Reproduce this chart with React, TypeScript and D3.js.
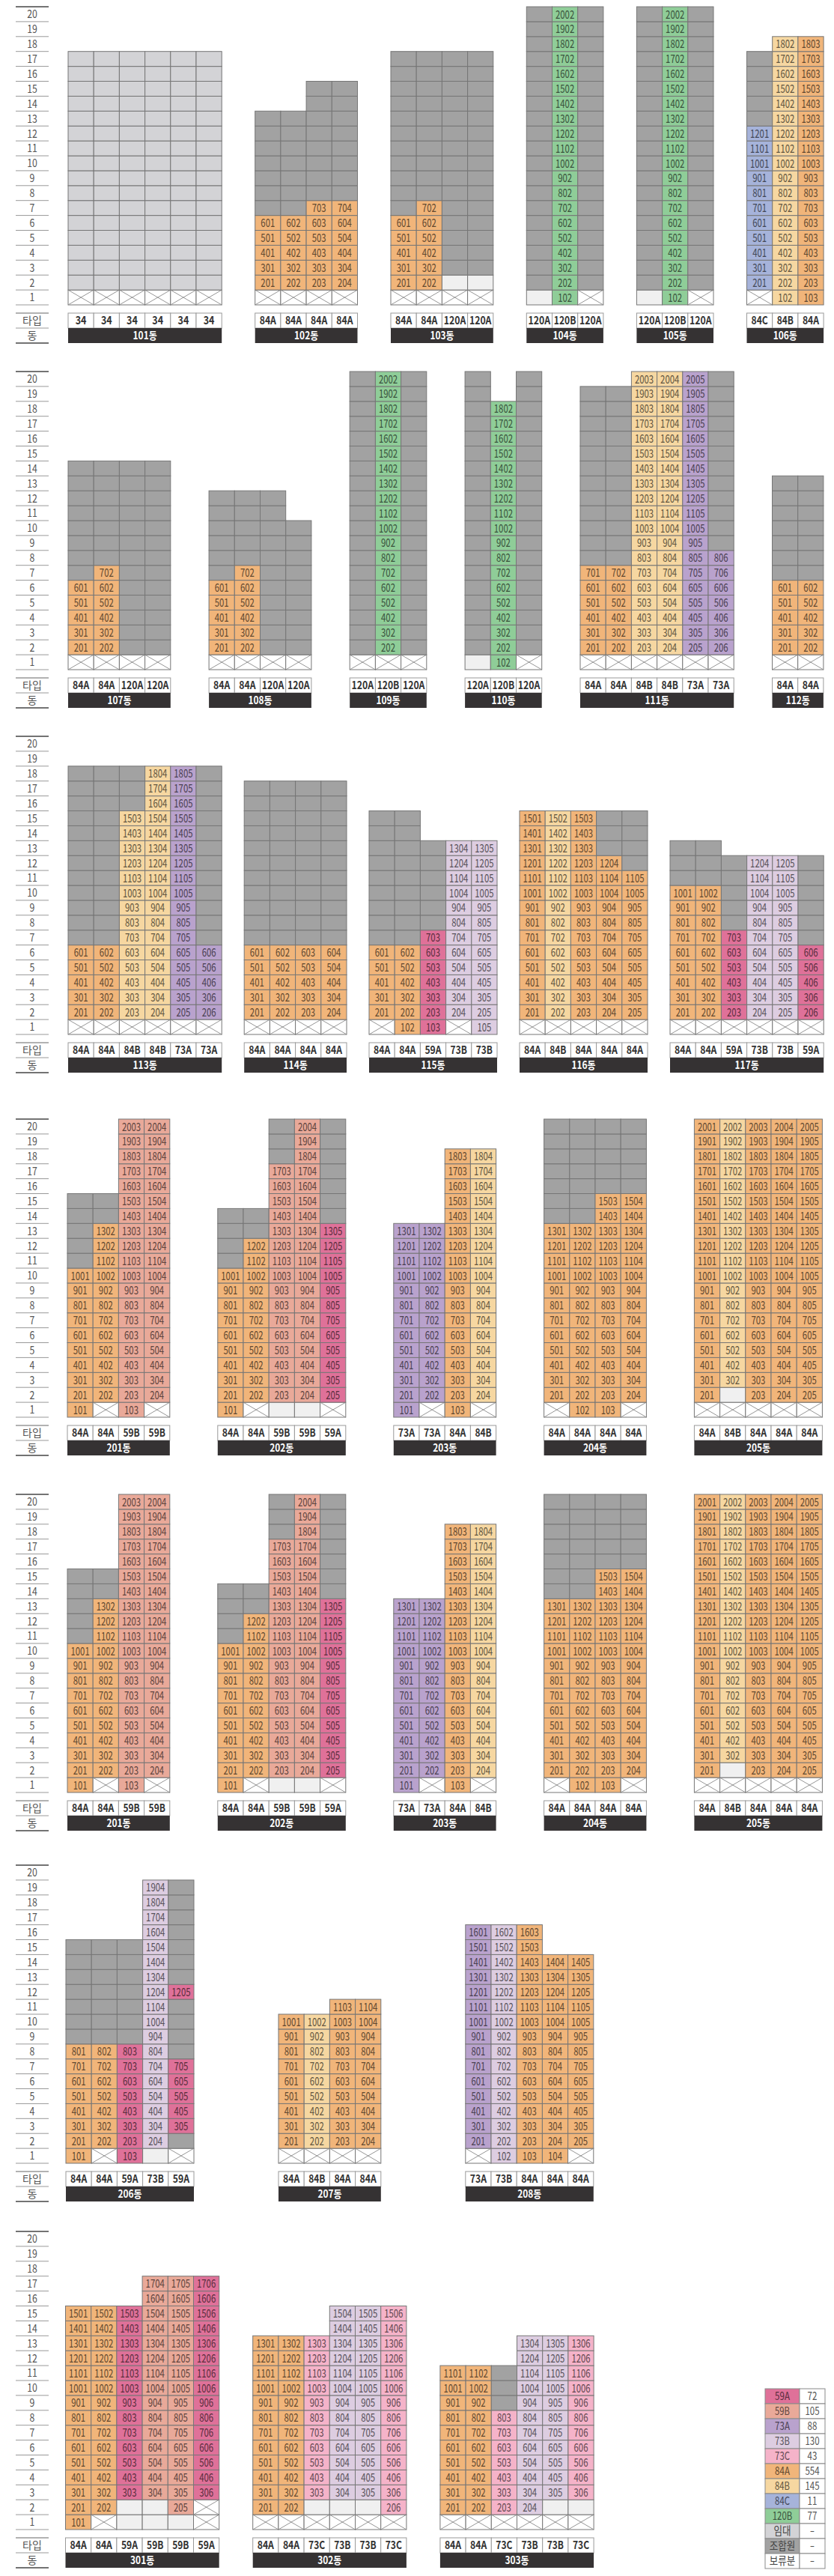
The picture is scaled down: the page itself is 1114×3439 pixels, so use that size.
import React from 'react'
import * as d3 from 'd3'

type Building = { dong: string; types: string[]; floors: string[] }

// floor codes, read from the ground floor up: x = piloti, s = unit for sale,
// g = 조합원, r = 임대, h = 보류분. A number after a letter repeats it.
const floorTicks = ['1', '2', '3', '4', '5', '6', '7', '8', '9', '10', '11', '12', '13', '14', '15', '16', '17', '18', '19', '20']
const footLabels = ['타입', '동']

const row1: Building[] = [
    { dong: '101동', types: ['34', '34', '34', '34', '34', '34'], floors: ['x r16', 'x r16', 'x r16', 'x r16', 'x r16', 'x r16'] },
    { dong: '102동', types: ['84A', '84A', '84A', '84A'], floors: ['x s5 g7', 'x s5 g7', 'x s6 g8', 'x s6 g8'] },
    { dong: '103동', types: ['84A', '84A', '120A', '120A'], floors: ['x s5 g11', 'x s6 g10', 'x h g15', 'x h g15'] },
    { dong: '104동', types: ['120A', '120B', '120A'], floors: ['h g19', 's20', 'x g19'] },
    { dong: '105동', types: ['120A', '120B', '120A'], floors: ['h g19', 's20', 'x g19'] },
    { dong: '106동', types: ['84C', '84B', '84A'], floors: ['x s11 g5', 's18', 's18'] },
]

const row2: Building[] = [
    { dong: '107동', types: ['84A', '84A', '120A', '120A'], floors: ['x s5 g8', 'x s6 g7', 'x g13', 'x g13'] },
    { dong: '108동', types: ['84A', '84A', '120A', '120A'], floors: ['x s5 g6', 'x s6 g5', 'x g11', 'x g9'] },
    { dong: '109동', types: ['120A', '120B', '120A'], floors: ['x g19', 'x s19', 'x g19'] },
    { dong: '110동', types: ['120A', '120B', '120A'], floors: ['h g19', 's18', 'x g19'] },
    { dong: '111동', types: ['84A', '84A', '84B', '84B', '73A', '73A'], floors: ['x s6 g12', 'x s6 g12', 'x s19', 'x s19', 'x s19', 'x s7 g12'] },
    { dong: '112동', types: ['84A', '84A'], floors: ['x s5 g7', 'x s5 g7'] },
]

const row3: Building[] = [
    { dong: '113동', types: ['84A', '84A', '84B', '84B', '73A', '73A'], floors: ['x s5 g12', 'x s5 g12', 'x s14 g3', 'x s17', 'x s17', 'x s5 g12'] },
    { dong: '114동', types: ['84A', '84A', '84A', '84A'], floors: ['x s5 g11', 'x s5 g11', 'x s5 g11', 'x s5 g11'] },
    { dong: '115동', types: ['84A', '84A', '59A', '73B', '73B'], floors: ['x s5 g9', 's6 g9', 's7 g6', 'x s12', 's13'] },
    { dong: '116동', types: ['84A', '84B', '84A', '84A', '84A'], floors: ['x s14', 'x s14', 'x s14', 'x s11 g3', 'x s10 g4'] },
    { dong: '117동', types: ['84A', '84A', '59A', '73B', '73B', '59A'], floors: ['x s9 g3', 'x s9 g3', 'x s6 g5', 'x s11', 'x s11', 'x s5 g6'] },
]

const row4: Building[] = [
    { dong: '201동', types: ['84A', '84A', '59B', '59B'], floors: ['s10 g5', 'x s12 g2', 's20', 'x s19'] },
    { dong: '202동', types: ['84A', '84A', '59B', '59B', '59A'], floors: ['s10 g4', 'x s11 g2', 'h s16 g3', 'h s19', 'x s12 g7'] },
    { dong: '203동', types: ['73A', '73A', '84A', '84B'], floors: ['s13', 'x s12', 's18', 'x s17'] },
    { dong: '204동', types: ['84A', '84A', '84A', '84A'], floors: ['x s12 g7', 's13 g7', 's15 g5', 'x s14 g5'] },
    { dong: '205동', types: ['84A', '84B', '84A', '84A', '84A'], floors: ['x s19', 'x h s18', 'x s19', 'x s19', 'x s19'] },
]

// the source sheet prints the 200-block twice
const row5: Building[] = row4

const row6: Building[] = [
    { dong: '206동', types: ['84A', '84A', '59A', '73B', '59A'], floors: ['s8 g7', 'x s7 g7', 's8 g7', 'h s18', 'x g s5 g4 s g7'] },
    { dong: '207동', types: ['84A', '84B', '84A', '84A'], floors: ['x s9', 'x s9', 'x s10', 'x s10'] },
    { dong: '208동', types: ['73A', '73B', '84A', '84A', '84A'], floors: ['x s15', 's16', 's16', 's14', 'x s13'] },
]

const row7: Building[] = [
    { dong: '301동', types: ['84A', '84A', '59A', '59B', '59B', '59A'], floors: ['s15', 'x s14', 'h2 s13', 'h2 s15', 'h s16', 'x2 s15'] },
    { dong: '302동', types: ['84A', '84A', '73C', '73B', '73B', '73C'], floors: ['x s12', 'x s12', 'x h s11', 'x h s13', 'x h s13', 'x s14'] },
    { dong: '303동', types: ['84A', '84A', '73C', '73B', '73B', '73C'], floors: ['x s10', 'x s10', 'x s7 g3', 'x s12', 'x h s11', 'x h s11'] },
]

const legendLabels = ['59A', '59B', '73A', '73B', '73C', '84A', '84B', '84C', '120B', '임대', '조합원', '보류분']
const legendCounts = ['72', '105', '88', '130', '43', '554', '145', '11', '77', '-', '-', '-']

// ---- styles / layout ----
const FONT = "'Noto Sans CJK KR', 'Noto Sans', sans-serif"
const COL_W = 34.2
const FLOOR_H = 19.9
const FLOORS = 20

const typeColors: Record<string, string> = {
    '59A': '#df7199', '59B': '#e9a999', '73A': '#b9a2cd', '73B': '#ddcde1', '73C': '#f5b3c9',
    '84A': '#f1b57a', '84B': '#f6d7a1', '84C': '#a6b3da', '120B': '#8fcd98',
    '임대': '#d3d3d6', '조합원': '#a2a2a2', '보류분': '#ffffff',
}
const codeColors: Record<string, string> = { r: '#d3d3d6', g: '#a2a2a2', h: '#f0f0f0', x: '#ffffff' }

const rows = [row1, row2, row3, row4, row5, row6, row7]
const rowLayouts = [
    { top: 9, x0: 91, gap: 44.5 },
    { top: 496, x0: 91, gap: 51.3 },
    { top: 983, x0: 91, gap: 30 },
    { top: 1494, x0: 90, gap: 64 },
    { top: 1995, x0: 90, gap: 64 },
    { top: 2490, x0: 88, gap: 113 },
    { top: 2979, x0: 87.5, gap: 45 },
]

const expand = (code: string): string[] =>
    code.split(' ').flatMap(tok => {
        const n = tok.length > 1 ? +tok.slice(1) : 1
        return Array(n).fill(tok[0])
    })

const textColor = (fill: string) => d3.color(fill)!.darker(2.6).formatHex()

const Axis = ({ y, footTop }: { y: d3.ScaleLinear<number, number>; footTop: number }) => (
    <g>
        {d3.range(0, FLOORS + 1).map(k => (
            <line key={k} x1={21} x2={65} y1={y(k)} y2={y(k)}
                stroke={k === FLOORS ? '#444' : '#999'} strokeWidth={k === FLOORS ? 1.6 : 1} />
        ))}
        {floorTicks.map((t, i) => (
            <text key={t} x={43} y={(y(i) + y(i + 1)) / 2} dy='0.36em' textAnchor='middle'
                fontSize={15} fill='#555' textLength={t.length * 6.8} lengthAdjust='spacingAndGlyphs'>{t}</text>
        ))}
        {[0, 1, 2].map(k => (
            <line key={k} x1={21} x2={65} y1={footTop + k * 20} y2={footTop + k * 20}
                stroke={k === 2 ? '#444' : '#999'} strokeWidth={k === 1 ? 1 : 1.6} />
        ))}
        {footLabels.map((t, i) => (
            <text key={t} x={43} y={footTop + i * 20 + 10} dy='0.36em' textAnchor='middle'
                fontSize={14} fill='#555'>{t}</text>
        ))}
    </g>
)

const BuildingView = ({ b, left, y, footTop }: { b: Building; left: number; y: d3.ScaleLinear<number, number>; footTop: number }) => {
    const n = b.types.length
    const x = d3.scaleBand<number>().domain(d3.range(n)).range([left, left + n * COL_W])
    const w = x.bandwidth()
    return (
        <g>
            {b.floors.map((code, ci) => expand(code).map((k, fi) => {
                const floor = fi + 1
                const x0 = x(ci)!
                const y0 = y(floor)
                const h = y(floor - 1) - y(floor)
                const fill = k === 's' ? typeColors[b.types[ci]] : codeColors[k]
                const unit = String(floor * 100 + ci + 1)
                return (
                    <g key={`${ci}-${fi}`}>
                        <rect x={x0} y={y0} width={w} height={h} fill={fill} stroke='#767676' strokeWidth={1} />
                        {k === 'x' && (
                            <path d={`M${x0},${y0}L${x0 + w},${y0 + h}M${x0 + w},${y0}L${x0},${y0 + h}`}
                                stroke='#8a8a8a' strokeWidth={0.9} fill='none' />
                        )}
                        {k === 's' && (
                            <text x={x0 + w / 2} y={y0 + h / 2} dy='0.36em' textAnchor='middle' fontSize={15.5}
                                fill={textColor(fill)} textLength={unit.length * 6.3} lengthAdjust='spacingAndGlyphs'>{unit}</text>
                        )}
                    </g>
                )
            }))}
            {b.types.map((t, ci) => (
                <g key={t + ci}>
                    <rect x={x(ci)} y={footTop} width={w} height={20} fill='#fff' stroke='#9a9a9a' />
                    <text x={x(ci)! + w / 2} y={footTop + 10} dy='0.36em' textAnchor='middle' fontSize={15}
                        fontWeight='bold' fill='#333' textLength={t.length * 7.4} lengthAdjust='spacingAndGlyphs'>{t}</text>
                </g>
            ))}
            <rect x={left} y={footTop + 20} width={n * COL_W} height={20} fill='#353233' />
            <text x={left + (n * COL_W) / 2} y={footTop + 30} dy='0.36em' textAnchor='middle' fontSize={14}
                fontWeight='bold' fill='#fff' textLength={32} lengthAdjust='spacingAndGlyphs'>{b.dong}</text>
        </g>
    )
}

const Row = ({ buildings, layout }: { buildings: Building[]; layout: { top: number; x0: number; gap: number } }) => {
    const y = d3.scaleLinear().domain([0, FLOORS]).range([layout.top + FLOORS * FLOOR_H, layout.top])
    const footTop = y(0) + 11
    const lefts: number[] = []
    let cursor = layout.x0
    buildings.forEach(b => {
        lefts.push(cursor)
        cursor += b.types.length * COL_W + layout.gap
    })
    return (
        <g>
            <Axis y={y} footTop={footTop} />
            {buildings.map((b, i) => <BuildingView key={b.dong} b={b} left={lefts[i]} y={y} footTop={footTop} />)}
        </g>
    )
}

const Legend = () => {
    const y = d3.scaleBand<number>().domain(d3.range(legendLabels.length)).range([3189, 3429])
    const h = y.bandwidth()
    return (
        <g>
            {legendLabels.map((t, i) => (
                <g key={t}>
                    <rect x={1022} y={y(i)} width={46} height={h} fill={typeColors[t]} stroke='#8a8a8a' />
                    <rect x={1068} y={y(i)} width={34} height={h} fill='#fff' stroke='#8a8a8a' />
                    <text x={1045} y={y(i)! + h / 2} dy='0.36em' textAnchor='middle' fontSize={15}
                        fill={i < 9 ? textColor(typeColors[t]) : '#444'}
                        textLength={i < 9 ? t.length * 6.6 : t.length * 11.5} lengthAdjust='spacingAndGlyphs'>{t}</text>
                    <text x={1085} y={y(i)! + h / 2} dy='0.36em' textAnchor='middle' fontSize={15} fill='#555'
                        textLength={legendCounts[i].length * 6.4} lengthAdjust='spacingAndGlyphs'>{legendCounts[i]}</text>
                </g>
            ))}
        </g>
    )
}

export default function App() {
    return (
        <div style={{ width: 1114, height: 3439, background: '#fff' }}>
            <style>{'body{margin:0}'}</style>
            <svg width={1114} height={3439} style={{ display: 'block', fontFamily: FONT }}>
                {rows.map((r, i) => <Row key={i} buildings={r} layout={rowLayouts[i]} />)}
                <Legend />
            </svg>
        </div>
    )
}
